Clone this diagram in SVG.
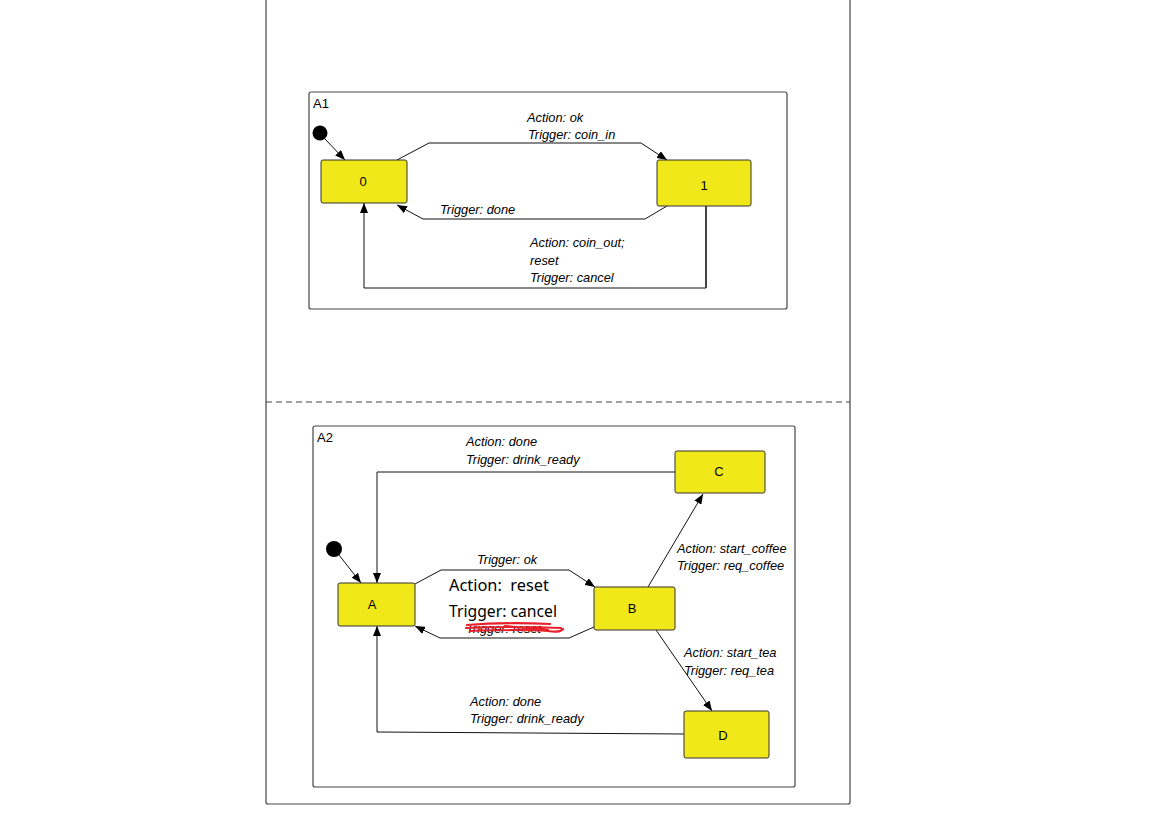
<svg xmlns="http://www.w3.org/2000/svg" width="1152" height="817" viewBox="0 0 1152 817">
<style>
.frame{fill:none;stroke:#444;stroke-width:1.2}
.node{fill:#f1e81a;stroke:#333;stroke-width:1}
.lbl{font-family:"Liberation Sans",Arial,sans-serif;font-size:13px;fill:#000}
.it{font-family:"Liberation Sans",Arial,sans-serif;font-size:12.8px;font-style:italic;fill:#000}
.big{font-family:"Noto Sans","Noto Sans CJK SC",sans-serif;font-size:15.5px;fill:#000;white-space:pre}
.conn{fill:none;stroke:#111;stroke-width:1}
</style>
<defs>
<marker id="arr" viewBox="0 0 10 8" refX="10" refY="4" markerWidth="10" markerHeight="8" markerUnits="userSpaceOnUse" orient="auto">
<path d="M0,0 L10,4 L0,8 Z" fill="#000"/>
</marker>
</defs>
<rect width="1152" height="817" fill="#fff"/>
<path class="frame" d="M266,-5 L266,802 Q266,804 268,804 L848,804 Q850,804 850,802 L850,-5"/>
<line x1="266" y1="402" x2="850" y2="402" stroke="#444" stroke-width="1.2" stroke-dasharray="6,4"/>
<g id="A1">
<rect class="frame" x="309" y="92" width="478" height="217" rx="2"/>
<text class="lbl" x="313" y="108">A1</text>
</g>
<g id="A2">
<rect class="frame" x="313" y="426" width="482" height="361" rx="2"/>
<text class="lbl" x="317" y="442">A2</text>
</g>
<g id="connectors">
<line class="conn" x1="325" y1="139" x2="345" y2="160" marker-end="url(#arr)"/>
<polyline class="conn" points="397,160 429,143 641,143 667,160" marker-end="url(#arr)"/>
<polyline class="conn" points="667,206 645,219 423,219 397,205" marker-end="url(#arr)"/>
<polyline class="conn" points="706,288 364,288 364,203" marker-end="url(#arr)"/>
<line x1="706" y1="206" x2="706" y2="288" stroke="#444" stroke-width="2"/>
<line class="conn" x1="339" y1="555" x2="361" y2="583" marker-end="url(#arr)"/>
<polyline class="conn" points="675,472 377,472 377,583" marker-end="url(#arr)"/>
<polyline class="conn" points="415,584 441,570 569,570 595,587" marker-end="url(#arr)"/>
<polyline class="conn" points="594,627 569,638 440,638 415,626" marker-end="url(#arr)"/>
<line class="conn" x1="648" y1="587" x2="703" y2="494" marker-end="url(#arr)"/>
<line class="conn" x1="656" y1="630" x2="712" y2="711" marker-end="url(#arr)"/>
<polyline class="conn" points="684,734 377,732 377,626" marker-end="url(#arr)"/>
</g>
<g id="init1"><circle cx="320" cy="133" r="7.5" fill="#000"/></g>
<g id="init2"><circle cx="334" cy="549" r="8" fill="#000"/></g>
<g id="n0"><rect class="node" x="321" y="160" width="86" height="43" rx="2"/><text class="lbl" x="363" y="186" text-anchor="middle">0</text></g>
<g id="n1"><rect class="node" x="657" y="160" width="94" height="46" rx="2"/><text class="lbl" x="704" y="190" text-anchor="middle">1</text></g>
<g id="nA"><rect class="node" x="338" y="583" width="77" height="43" rx="2"/><text class="lbl" x="372" y="609" text-anchor="middle">A</text></g>
<g id="nB"><rect class="node" x="594" y="587" width="81" height="43" rx="2"/><text class="lbl" x="632" y="613" text-anchor="middle">B</text></g>
<g id="nC"><rect class="node" x="675" y="451" width="90" height="42" rx="2"/><text class="lbl" x="719" y="476" text-anchor="middle">C</text></g>
<g id="nD"><rect class="node" x="684" y="711" width="85" height="47" rx="2"/><text class="lbl" x="723" y="740" text-anchor="middle">D</text></g>
<g id="labels">
<text class="it" x="527" y="122">Action: ok</text>
<text class="it" x="528" y="139">Trigger: coin_in</text>
<text class="it" x="440" y="214">Trigger: done</text>
<text class="it" x="530" y="247">Action: coin_out;</text>
<text class="it" x="530" y="265">reset</text>
<text class="it" x="530" y="282">Trigger: cancel</text>
<text class="it" x="466" y="446">Action: done</text>
<text class="it" x="466" y="464">Trigger: drink_ready</text>
<text class="it" x="477" y="564">Trigger: ok</text>
<text class="it" x="466" y="633">Trigger: reset</text>
<rect x="455" y="618" width="110" height="8" fill="#fff"/>
<path d="M467,625 Q505,622 550,624 M466,628 Q515,626 561,628 M470,631 Q520,629 548,631 Q560,633 563,629 M505,626 L548,630" fill="none" stroke="#e8202a" stroke-width="2.2" stroke-linecap="round"/>
<text class="big" x="449" y="591" textLength="100" lengthAdjust="spacingAndGlyphs" xml:space="preserve">Action:  reset</text>
<text class="big" x="449" y="617" textLength="108" lengthAdjust="spacingAndGlyphs">Trigger: cancel</text>
<text class="it" x="677" y="553">Action: start_coffee</text>
<text class="it" x="677" y="570">Trigger: req_coffee</text>
<text class="it" x="684" y="657">Action: start_tea</text>
<text class="it" x="684" y="675">Trigger: req_tea</text>
<text class="it" x="470" y="706">Action: done</text>
<text class="it" x="470" y="723">Trigger: drink_ready</text>
</g>
</svg>
